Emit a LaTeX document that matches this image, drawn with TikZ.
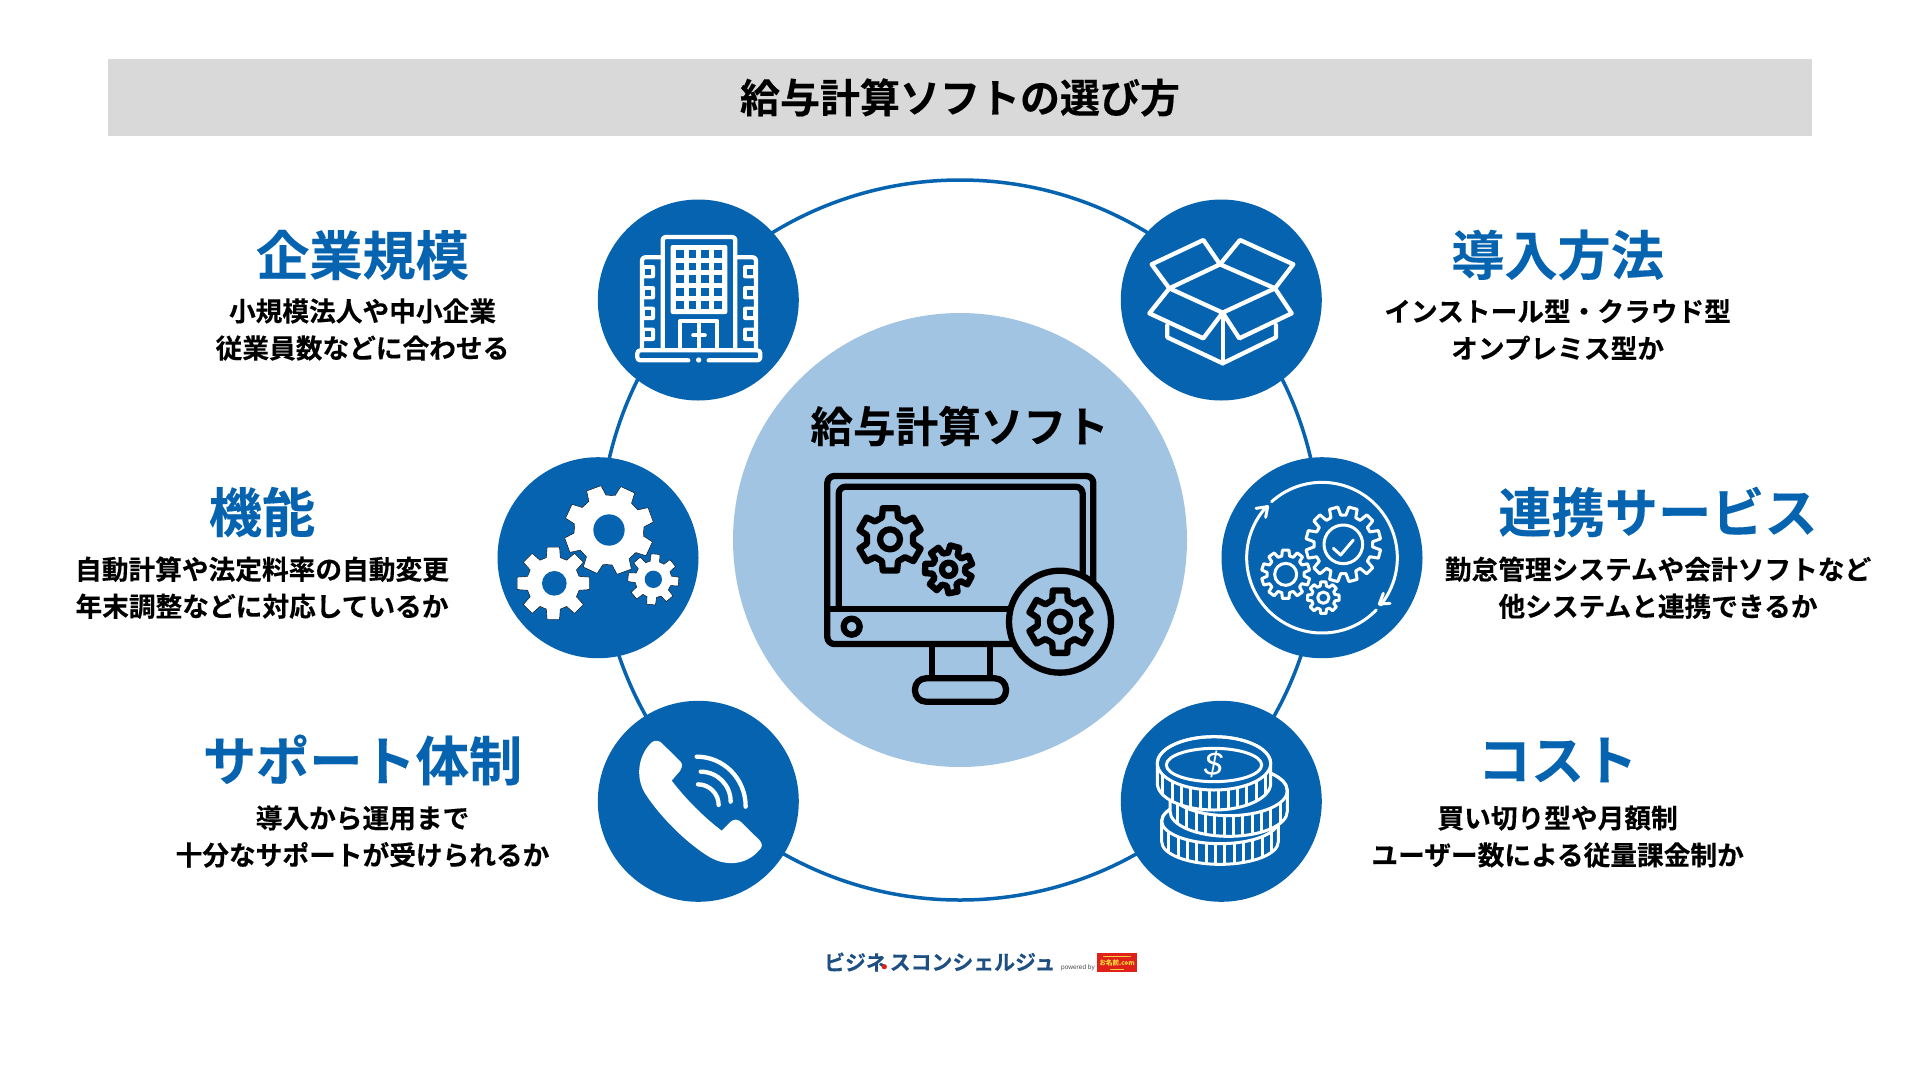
\documentclass[tikz,border=0pt]{standalone}
\usepackage{fontspec}
\setmainfont{Noto Sans CJK JP}[BoldFont={Noto Sans CJK JP Bold},BoldFeatures={FakeBold=0.25}]
\newfontfamily\latinfont{Liberation Sans}
\usetikzlibrary{positioning, calc, arrows.meta}

\definecolor{mainblue}{HTML}{0563AF}
\definecolor{lightblue}{HTML}{A2C4E3}
\definecolor{titlegray}{HTML}{D9D9D9}
\definecolor{logonavy}{HTML}{1D4F82}
\definecolor{logored}{HTML}{E0201B}
\definecolor{logogold}{HTML}{F6D13A}

\tikzset{
    iconcircle/.style={circle, fill=mainblue, minimum size=201pt, inner sep=0pt, outer sep=0pt},
    headtext/.style={text=mainblue, font=\fontsize{53.2}{53}\selectfont\bfseries},
    bodytext/.style={text=black, align=center, font=\fontsize{26.7}{37}\selectfont\bfseries},
    iconline/.style={draw=white, line width=4.3pt, line join=round, line cap=round},
    thinline/.style={draw=white, line width=3pt, line join=round, line cap=round},
    monoline/.style={draw=black, line width=6.3pt, line join=round, line cap=round},
}

% 歯車: 中心x, 中心y, 歯先半径, 歯元半径, 歯数, 回転
\newcommand{\gearshape}[7][]{%
    \pgfmathsetmacro{\gearstep}{360/#6}%
    \pgfmathsetmacro{\geartip}{78/#6}%
    \pgfmathsetmacro{\gearroot}{120/#6}%
    \draw[#1] ({#2+#5*cos(#7-\gearroot)},{#3+#5*sin(#7-\gearroot)})
        \foreach \k [evaluate=\k as \ga using #7+(\k-1)*\gearstep] in {1,...,#6} {
            -- ({#2+#4*cos(\ga-\geartip)},{#3+#4*sin(\ga-\geartip)})
            -- ({#2+#4*cos(\ga+\geartip)},{#3+#4*sin(\ga+\geartip)})
            -- ({#2+#5*cos(\ga+\gearroot)},{#3+#5*sin(\ga+\gearroot)})
            -- ({#2+#5*cos(\ga+\gearstep-\gearroot)},{#3+#5*sin(\ga+\gearstep-\gearroot)})
        } -- cycle;%
}

% コイン: 中心x, 中心y, 横半径, 縦半径, 厚み
\newcommand{\coinshape}[5]{%
    \filldraw[thinline, fill=mainblue] (#1-#3,#2) -- (#1-#3,#2+#5)
        arc[start angle=180, end angle=0, x radius=#3, y radius=#4]
        -- (#1+#3,#2)
        arc[start angle=0, end angle=-180, x radius=#3, y radius=#4] -- cycle;
    \draw[thinline] (#1,#2) ellipse [x radius=#3, y radius=#4];
    \foreach \dx in {-154,-126,...,154} {
        \pgfmathsetmacro{\dy}{#4*sqrt(1-(\dx/#3)*(\dx/#3))}
        \draw[thinline, line cap=butt] (#1+\dx,#2+\dy) -- (#1+\dx,#2+\dy+#5);
    }
}

\begin{document}
\begin{tikzpicture}[x=1pt,y=-1pt]
    \useasboundingbox (0,0) rectangle (1920,1080);
    \fill[white] (0,0) rectangle (1920,1080);

    % タイトル
    \fill[titlegray] (108,59) rectangle (1812,136);
    \node[font=\fontsize{40}{40}\selectfont\bfseries] (title) at (960,97.5) {給与計算ソフトの選び方};

    % 外側の輪
    \node[circle, draw=mainblue, line width=3.5pt, minimum size=720pt, inner sep=0pt] (ring) at (960,540) {};

    % 中央の円
    \node[circle, fill=lightblue, minimum size=454pt, inner sep=0pt] (center) at (960,540) {};
    \node[font=\fontsize{42.6}{42}\selectfont\bfseries] (centertitle) at (959.5,426) {給与計算ソフト};

    % 6つの円
    \node[iconcircle] (scale) at (698.3,300) {};
    \node[iconcircle] (func) at (598,557.7) {};
    \node[iconcircle] (support) at (698.3,801.3) {};
    \node[iconcircle] (install) at (1221.3,300) {};
    \node[iconcircle] (link) at (1322,557.7) {};
    \node[iconcircle] (cost) at (1221.3,801.3) {};

    % 左の文字
    \node[headtext] (scalehead) at (362.5,255) {企業規模};
    \node[bodytext] (scalebody) at (362.5,329.5) {小規模法人や中小企業\\従業員数などに合わせる};
    \node[headtext] (funchead) at (262,512) {機能};
    \node[bodytext] (funcbody) at (262,587.7) {自動計算や法定料率の自動変更\\年末調整などに対応しているか};
    \node[headtext] (supporthead) at (362.5,760) {サポート体制};
    \node[bodytext] (supportbody) at (362.5,836.5) {導入から運用まで\\十分なサポートが受けられるか};

    % 右の文字
    \node[headtext] (installhead) at (1557.6,255) {導入方法};
    \node[bodytext] (installbody) at (1557.6,329.5) {インストール型・クラウド型\\オンプレミス型か};
    \node[headtext] (linkhead) at (1658,512) {連携サービス};
    \node[bodytext] (linkbody) at (1658,587.7) {勤怠管理システムや会計ソフトなど\\他システムと連携できるか};
    \node[headtext] (costhead) at (1557.6,760) {コスト};
    \node[bodytext] (costbody) at (1557.6,836.5) {買い切り型や月額制\\ユーザー数による従量課金制か};

    % ビルのアイコン
    \begin{scope}[shift={(620,220)},scale=1/3]
        \draw[iconline, rounded corners=3pt] (128,385) -- (128,51) -- (346,51) -- (346,385);
        \draw[iconline, rounded corners=3pt] (128,112) -- (66,112) -- (66,385);
        \draw[iconline, rounded corners=3pt] (346,112) -- (408,112) -- (408,385);
        \fill[white, rounded corners=2pt] (152,75) rectangle (322,282);
        \foreach \wx in {179,217,255,293} {
            \foreach \wy in {101,139,177,216,254} {
                \fill[mainblue] (\wx-11.5,\wy-11.5) rectangle (\wx+11.5,\wy+11.5);
            }
        }
        \foreach \wy in {155,218,280,343} {
            \fill[white, rounded corners=2pt] (66,\wy-20) rectangle (105,\wy+20);
            \fill[mainblue] (76,\wy-9) rectangle (93,\wy+9);
            \fill[white, rounded corners=2pt] (369,\wy-20) rectangle (408,\wy+20);
            \fill[mainblue] (381,\wy-9) rectangle (398,\wy+9);
        }
        \draw[iconline] (181,385) -- (181,303) -- (292,303) -- (292,385);
        \draw[iconline] (236,303) -- (236,385);
        \draw[iconline] (220,346) -- (254,346);
        \draw[iconline, rounded corners=3pt] (205,421) -- (52,421) -- (52,391) -- (421,391) -- (421,421) -- (266,421);
        \fill[white] (236,420) circle (8);
    \end{scope}

    % 箱のアイコン
    \begin{scope}[shift={(1140,220)},scale=1/3]
        \draw[iconline] (35,133) -- (190,60) -- (240,133) -- (88,205) -- cycle;
        \draw[iconline] (240,133) -- (300,60) -- (460,133) -- (405,205) -- cycle;
        \draw[iconline] (88,205) -- (28,280) -- (190,355) -- (248,278) -- cycle;
        \draw[iconline] (405,205) -- (455,280) -- (298,355) -- (248,278) -- cycle;
        \draw[iconline] (82,315) -- (82,352) -- (248,430) -- (408,352) -- (408,315);
        \draw[iconline] (248,278) -- (248,430);
    \end{scope}

    % 歯車のアイコン
    \begin{scope}[shift={(480,440)},scale=1/3]
        \gearshape[fill=white]{387}{270}{135}{105}{8}{-65}
        \fill[mainblue] (387,270) circle (47);
        \gearshape[fill=white]{220}{430}{110}{80}{8}{0}
        \fill[mainblue] (223,430) circle (37);
        \gearshape[fill=white]{520}{418}{77}{55}{8}{-85}
        \fill[mainblue] (520,418) circle (26);
    \end{scope}

    % 電話のアイコン
    \begin{scope}[shift={(480,440)},scale=1/3]
        \fill[white] (515,907) .. controls (528,897) and (540,903) .. (548,912) -- (602,965)
            .. controls (610,975) and (605,985) .. (600,993) -- (575,1022)
            .. controls (620,1080) and (670,1130) .. (725,1172) -- (752,1145)
            .. controls (762,1137) and (772,1137) .. (782,1145) -- (838,1200)
            .. controls (848,1210) and (848,1222) .. (838,1230)
            .. controls (800,1275) and (740,1280) .. (690,1252)
            .. controls (620,1210) and (540,1130) .. (495,1060)
            .. controls (465,1010) and (475,945) .. (515,907) -- cycle;
        \draw[iconline] (650,950) .. controls (731,950) and (797,1016) .. (797,1100);
        \draw[iconline] (662,995) .. controls (712,995) and (752,1035) .. (752,1085);
        \draw[iconline] (654,1033) .. controls (688,1033) and (716,1061) .. (716,1095);
    \end{scope}

    % 連携のアイコン
    \begin{scope}[shift={(1100,440)},scale=1/3]
        \draw[thinline] (666,353) ++(-132:226) arc[start angle=-132, end angle=39, radius=226];
        \draw[thinline] (666,353) ++(44:226) arc[start angle=44, end angle=223, radius=226];
        \draw[thinline] (468,205) -- (503,200) -- (497,232);
        \draw[thinline] (850,460) -- (838,492) -- (870,490);
        \gearshape[thinline]{730}{313}{113}{88}{12}{-75}
        \draw[thinline] (730,313) circle (58);
        \draw[thinline] (700,325) -- (722,345) -- (760,300);
        \gearshape[thinline]{557}{403}{73}{56}{10}{-90}
        \draw[thinline] (557,403) circle (33);
        \gearshape[thinline]{670}{473}{48}{36}{8}{-90}
        \draw[thinline] (670,473) circle (17);
    \end{scope}

    % コインのアイコン
    \begin{scope}[shift={(1150,725)},scale=1/3]
        \coinshape{210}{288}{175}{68}{62}
        \coinshape{236}{197}{176}{75}{62}
        \coinshape{192}{115}{170}{80}{60}
        \draw[thinline] (192,120) ellipse [x radius=143, y radius=50];
        \node[text=white, font=\fontsize{33}{33}\selectfont\latinfont\itshape] (dollar) at (190,118) {\$};
    \end{scope}

    % 中央のモニター
    \begin{scope}[shift={(810,460)},scale=1/3]
        \draw[monoline, rounded corners=7pt] (52,48) rectangle (850,552);
        \draw[monoline, rounded corners=7pt] (86,440) -- (86,80) -- (818,80) -- (818,340);
        \draw[monoline] (52,447) -- (600,447);
        \draw[monoline] (125,500) circle (24);
        \draw[monoline] (365,560) -- (365,650);
        \draw[monoline] (540,560) -- (540,650);
        \draw[monoline, rounded corners=11pt] (315,655) rectangle (588,725);
        \gearshape[monoline]{240}{238}{96}{70}{6}{-90}
        \draw[monoline] (240,238) circle (30);
        \gearshape[monoline]{416}{328}{72}{50}{7}{-75}
        \draw[monoline] (416,328) circle (20);
        \filldraw[monoline, fill=lightblue] (750,485) circle (153);
        \gearshape[monoline]{750}{485}{96}{68}{6}{-90}
        \draw[monoline] (750,485) circle (30);
    \end{scope}

    % ロゴ
    \node[text=logonavy, font=\fontsize{20.9}{21}\selectfont\bfseries, inner sep=0pt, anchor=west] (logoa) at (824,962) {ビジネ};
    \node[text=logonavy, font=\fontsize{20.9}{21}\selectfont\bfseries, inner sep=0pt, anchor=west] (logob) at (889.5,962) {スコンシェルジュ};
    \fill[logored] (884.3,966.7) circle (2.6);
    \node[text=black!70, font=\fontsize{6.5}{6.5}\selectfont\latinfont, inner sep=0pt] (powered) at (1078,968) {powered by};
    \node[fill=logored, text=logogold, minimum width=40.4pt, minimum height=19.4pt, inner sep=0pt, font=\fontsize{6.5}{6.5}\selectfont\bfseries] (onamae) at (1117,962.4) {お名前.com};
    \draw[logogold, line width=0.7pt] (1103,956) -- (1131,956);
    \draw[logogold, line width=0.7pt] (1110,969.5) -- (1124,969.5);
\end{tikzpicture}
\end{document}
